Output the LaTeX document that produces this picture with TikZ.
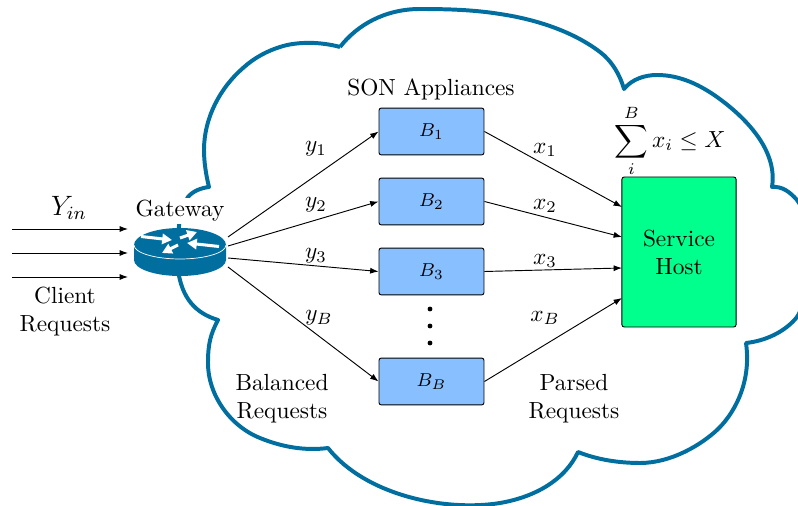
\documentclass[tikz,border=0pt]{standalone}
\usepackage{amsmath}
\usepackage{tikz}
\usetikzlibrary{arrows.meta}
\definecolor{cloudblue}{HTML}{006F9F}
\definecolor{boxblue}{HTML}{88C0FF}
\definecolor{hostgreen}{HTML}{00FF8C}
\tikzset{
  appliance/.style={draw, line width=0.4pt, rounded corners=1pt, fill=boxblue, minimum width=45pt, minimum height=20.1pt, inner sep=0pt, font=\footnotesize},
  flow/.style={-{Latex[length=3.6pt,width=2.6pt]}, line width=0.4pt},
  whitearrow/.style={-{Triangle[length=4.2pt,width=4.4pt]}, white, line width=1.3pt},
  dotmark/.style={circle, fill=black, inner sep=0pt, minimum size=2.1pt}
}

\begin{document}
\begin{tikzpicture}[x=0.4286pt, y=-0.4286pt]
  \useasboundingbox (0,0) rectangle (798,506);

  % cloud
  \draw[cloudblue, line width=1.7pt, line join=round]
    (340,47) .. controls (357,25) and (385,9) .. (420,9)
    .. controls (450,9) and (475,10) .. (500,14)
    .. controls (540,20) and (575,33) .. (600,52)
    .. controls (612,61) and (620,75) .. (624,89)
    .. controls (632,79) and (645,75) .. (657,75)
    .. controls (680,75) and (700,85) .. (717,97)
    .. controls (745,117) and (778,150) .. (772,187)
    .. controls (782,186) and (790,192) .. (797,200)
    .. controls (812,218) and (815,290) .. (797,317)
    .. controls (785,332) and (765,341) .. (746,343)
    .. controls (752,385) and (732,416) .. (717,430)
    .. controls (702,444) and (672,463) .. (640,463)
    .. controls (620,463) and (598,460) .. (578,452)
    .. controls (565,480) and (535,497) .. (500,503)
    .. controls (445,512) and (365,495) .. (328,448)
    .. controls (305,451) and (282,447) .. (260,438)
    .. controls (230,426) and (208,395) .. (208,363)
    .. controls (208,345) and (210,335) .. (218,320)
    .. controls (195,313) and (182,298) .. (178,270)
    .. controls (176,245) and (178,212) .. (188,197)
    .. controls (193,191) and (201,188) .. (209,187)
    .. controls (206,175) and (204,162) .. (204,150)
    .. controls (204,118) and (220,88) .. (243,68)
    .. controls (254,58) and (267,51) .. (280,47)
    .. controls (298,41) and (322,42) .. (340,47);

  % router
  \node[minimum width=39.4pt, minimum height=20.6pt, inner sep=0pt] (router) at (180,252) {};
  \fill[cloudblue] (134,245) -- (134,260) arc[start angle=180, end angle=0, x radius=46, y radius=16]
    -- (226,245) arc[start angle=0, end angle=-180, x radius=46, y radius=17];
  \draw[white, line width=0.3pt] (134,245) arc[start angle=180, end angle=0, x radius=46, y radius=14];
  \draw[whitearrow] (141,236.5) -- (172,240);
  \draw[whitearrow] (219,246.5) -- (187,243);
  \draw[whitearrow] (180,238) -- (197,232);
  \draw[whitearrow] (178,245) -- (162,253);

  \node[fill=white, inner sep=1pt] (gateway) at (180,211) {Gateway};

  % appliances
  \node[appliance] (b1) at (431.5,131.5) {$B_1$};
  \node[appliance] (b2) at (431.5,201.5) {$B_2$};
  \node[appliance] (b3) at (431.5,271.5) {$B_3$};
  \node[appliance] (bb) at (431.5,381.5) {$B_B$};
  \node[draw, line width=0.4pt, rounded corners=1pt, fill=hostgreen, minimum width=48.9pt, minimum height=64.3pt, inner sep=0pt, align=center] (host) at (679,252) {Service\\Host};

  \node[dotmark] (d1) at (430,309) {};
  \node[dotmark] (d2) at (430,326) {};
  \node[dotmark] (d3) at (430,343) {};

  % free ends
  \coordinate (c1) at (12,229);
  \coordinate (c2) at (12,253);
  \coordinate (c3) at (12,277);
  \coordinate (i1) at (128,229);
  \coordinate (i2) at (128,253);
  \coordinate (i3) at (128,277);
  \coordinate (g1) at (228,237);
  \coordinate (g2) at (228,246);
  \coordinate (g3) at (228,258);
  \coordinate (g4) at (228,267);
  \coordinate (h1) at (622,207);
  \coordinate (h2) at (622,237);
  \coordinate (h3) at (622,268);
  \coordinate (h4) at (622,298);

  \draw[flow] (c1) -- (i1);
  \draw[flow] (c2) -- (i2);
  \draw[flow] (c3) -- (i3);
  \draw[flow] (g1) -- (b1.west);
  \draw[flow] (g2) -- (b2.west);
  \draw[flow] (g3) -- (b3.west);
  \draw[flow] (g4) -- (bb.west);
  \draw[flow] (b1.east) -- (h1);
  \draw[flow] (b2.east) -- (h2);
  \draw[flow] (b3.east) -- (h3);
  \draw[flow] (bb.east) -- (h4);

  % labels
  \node[font=\large] (yin) at (69,208) {$Y_{in}$};
  \node[align=center] (client) at (65,312) {Client\\Requests};
  \node (son) at (431,89) {SON Appliances};
  \node (y1) at (316,149) {$y_1$};
  \node (y2) at (316,205) {$y_2$};
  \node (y3) at (316,256) {$y_3$};
  \node (yb) at (319,318) {$y_B$};
  \node (x1) at (545,150) {$x_1$};
  \node (x2) at (545,206) {$x_2$};
  \node (x3) at (545,261) {$x_3$};
  \node (xb) at (545,318) {$x_B$};
  \node[align=center] (balanced) at (282,399) {Balanced\\Requests};
  \node[align=center] (parsed) at (574,399) {Parsed\\Requests};
  \node (limit) at (670,141) {$\displaystyle\sum_i^B x_i \leq X$};
\end{tikzpicture}
\end{document}
